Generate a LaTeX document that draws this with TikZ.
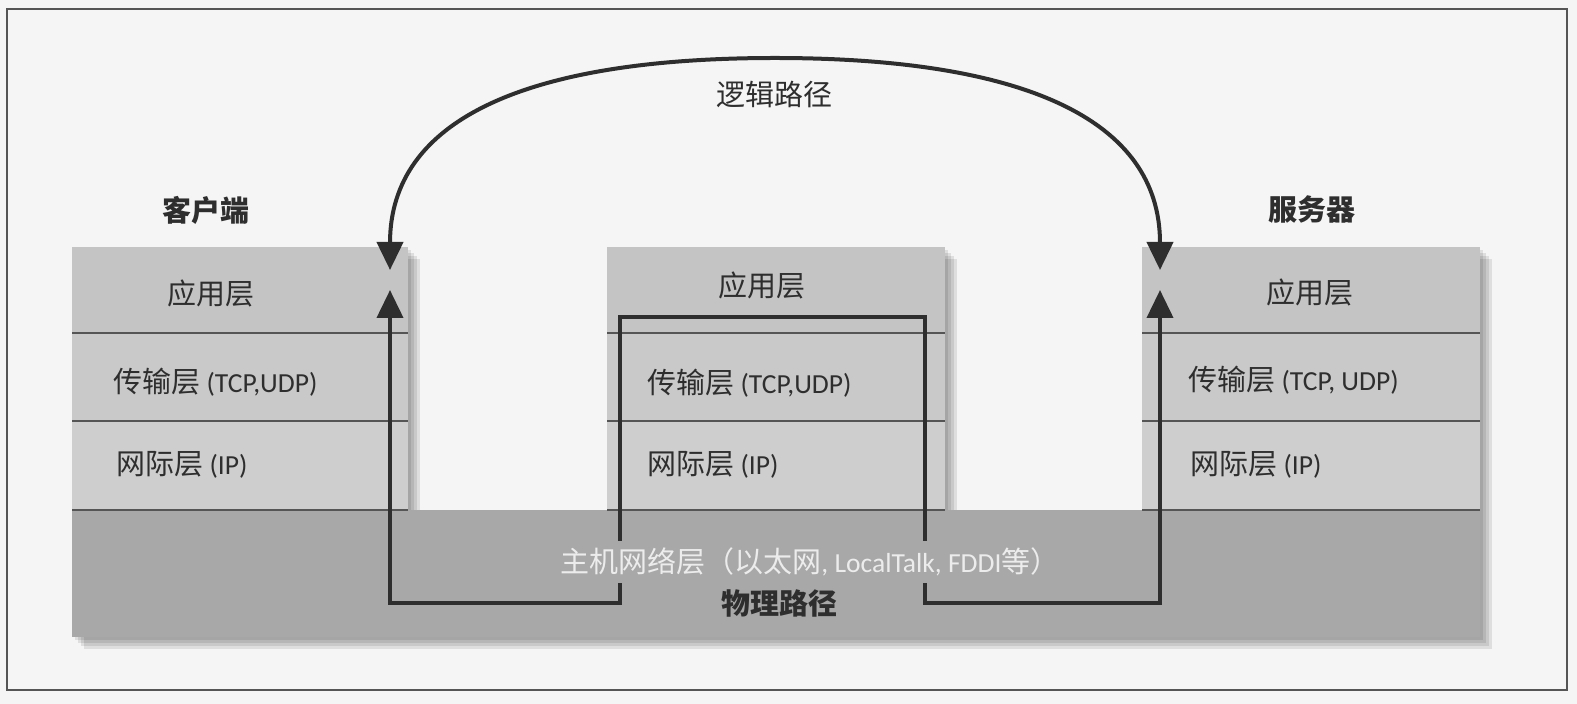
\documentclass[tikz,border=0pt]{standalone}
\usepackage{fontspec}
\setmainfont{Carlito}[Scale=0.95]
\newfontfamily\cjk{Noto Sans CJK SC}
\usetikzlibrary{arrows.meta}

\definecolor{pagebg}{HTML}{F5F5F5}
\definecolor{framec}{HTML}{555555}
\definecolor{baselayer}{HTML}{A8A8A8}
\definecolor{applayer}{HTML}{C4C4C4}
\definecolor{tcplayer}{HTML}{C9C9C9}
\definecolor{iplayer}{HTML}{CECECE}
\definecolor{inkline}{HTML}{2E2E2E}
\definecolor{hosttext}{HTML}{ECECEC}

\newcommand{\zh}[1]{{\cjk #1}}
% one protocol stack: left x, right x
\newcommand{\osistack}[2]{%
  \foreach \w in {3,6,9,12}
    \fill[black, opacity=0.09] (#1+\w, 247+\w) rectangle (#2+\w, 510);
  \fill[applayer] (#1,247) rectangle (#2,333);
  \fill[tcplayer] (#1,333) rectangle (#2,421);
  \fill[iplayer] (#1,421) rectangle (#2,510);
  \foreach \y in {333,421,510}
    \draw[sepline] (#1,\y) -- (#2,\y);
}

\begin{document}
\begin{tikzpicture}[x=0.5pt, y=-0.5pt,
    >={Triangle[width=13pt,length=14pt]},
    sepline/.style={draw=framec, line width=0.7pt},
    layertxt/.style={font=\fontsize{14.5}{17}\selectfont, text=inkline, inner sep=0pt},
    namelbl/.style={layertxt, font=\fontsize{14.5}{17}\selectfont\bfseries},
    hostlbl/.style={layertxt, text=hosttext, fill=baselayer, inner sep=3.5pt},
    logicpath/.style={draw=inkline, line width=2pt, <->},
    physpath/.style={draw=inkline, line width=2pt, <->}]
  \useasboundingbox (0,0) rectangle (1577,704);
  \fill[pagebg] (0,0) rectangle (1577,704);
  \draw[framec, line width=1pt] (7,9) rectangle (1567,690);

  %%%%% base layer %%%%%
  \foreach \w in {3,6,9,12}
    \fill[black, opacity=0.09] (72+\w,510) rectangle (1480+\w,637+\w);
  \fill[baselayer] (72,510) rectangle (1480,637);

  %%%%% stacks %%%%%
  \osistack{72}{408}
  \osistack{607}{945}
  \osistack{1142}{1480}

  \node[namelbl] (cliname) at (206,210) {\zh{客户端}};
  \node[namelbl] (srvname) at (1312,210) {\zh{服务器}};

  \node[layertxt] (cliapp) at (211,293) {\zh{应用层}};
  \node[layertxt, anchor=west] (clitcp) at (113,382) {\zh{传输层} (TCP,UDP)};
  \node[layertxt, anchor=west] (cliip) at (116,465) {\zh{网际层} (IP)};

  \node[layertxt] (midapp) at (762,285) {\zh{应用层}};
  \node[layertxt, anchor=west] (midtcp) at (647,383) {\zh{传输层} (TCP,UDP)};
  \node[layertxt, anchor=west] (midip) at (647,465) {\zh{网际层} (IP)};

  \node[layertxt] (srvapp) at (1310,292) {\zh{应用层}};
  \node[layertxt, anchor=west] (srvtcp) at (1188,380) {\zh{传输层} (TCP, UDP)};
  \node[layertxt, anchor=west] (srvip) at (1190,465) {\zh{网际层} (IP)};

  %%%%% logical path %%%%%
  \coordinate (arcL) at (390,270);
  \coordinate (arcT) at (775,58);
  \coordinate (arcR) at (1160,270);
  \draw[logicpath] (arcL) .. controls (390,120) and (525,58) .. (arcT)
    .. controls (1025,58) and (1160,120) .. (arcR);
  \node[layertxt] (logic) at (774,94) {\zh{逻辑路径}};

  %%%%% physical path %%%%%
  \coordinate (cliup) at (390,290);
  \coordinate (srvup) at (1160,290);
  \coordinate (phyL) at (620,603);
  \coordinate (phyR) at (925,603);
  \coordinate (midtop) at (775,317);
  \draw[physpath] (cliup) |- (phyL) -- (phyL |- midtop) -- (phyR |- midtop)
    -- (phyR) -| (srvup);

  \node[hostlbl] (hostnet) at (810,562) {\zh{主机网络层（以太网}, LocalTalk, FDDI\zh{等）}};
  \node[namelbl] (physical) at (779,603) {\zh{物理路径}};
\end{tikzpicture}
\end{document}
